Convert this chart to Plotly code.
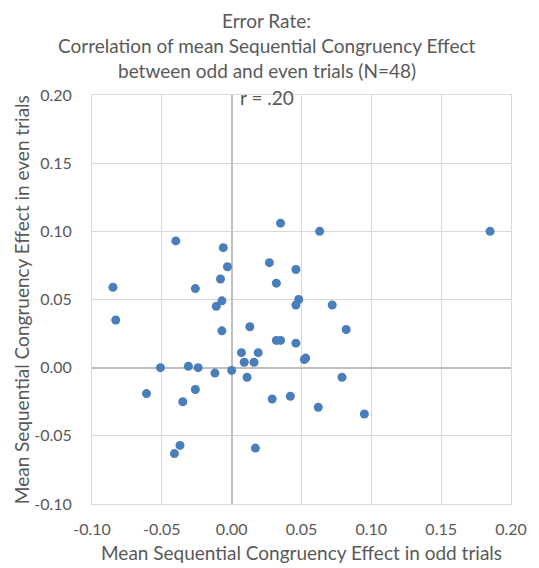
import plotly.graph_objects as go

# Mean Sequential Congruency Effect (error rate), odd vs even trials
odd_trials = [
    -0.040, -0.006, -0.003, -0.008, -0.085, -0.026, -0.007, -0.011, -0.083, 0.013,
    -0.007, 0.007, 0.019, 0.009, 0.016, -0.051, -0.031, -0.024, -0.012, 0.000,
    0.011, -0.026, 0.035, 0.063, 0.027, 0.046, 0.032, 0.048, 0.046, 0.072,
    0.082, 0.032, 0.035, 0.046, 0.052, 0.053, 0.079, -0.061, -0.035, 0.029,
    0.042, 0.062, 0.095, -0.037, -0.041, 0.017, 0.185,
]
even_trials = [
    0.093, 0.088, 0.074, 0.065, 0.059, 0.058, 0.049, 0.045, 0.035, 0.030,
    0.027, 0.011, 0.011, 0.004, 0.004, 0.000, 0.001, 0.000, -0.004, -0.002,
    -0.007, -0.016, 0.106, 0.100, 0.077, 0.072, 0.062, 0.050, 0.046, 0.046,
    0.028, 0.020, 0.020, 0.018, 0.006, 0.007, -0.007, -0.019, -0.025, -0.023,
    -0.021, -0.029, -0.034, -0.057, -0.063, -0.059, 0.100,
]

x_ticks = [-0.10, -0.05, 0.00, 0.05, 0.10, 0.15, 0.20]
y_ticks = [-0.10, -0.05, 0.00, 0.05, 0.10, 0.15, 0.20]
x_tick_labels = ["-0.10", "-0.05", "0.00", "0.05", "0.10", "0.15", "0.20"]
y_tick_labels = ["-0.10", "-0.05", "0.00", "0.05", "0.10", "0.15", "0.20"]

title_lines = [
    "Error Rate:",
    "Correlation of mean Sequential Congruency Effect",
    "between odd and even trials (N=48)",
    "r = .20",
]
x_title = "Mean Sequential Congruency Effect in odd trials"
y_title = "Mean Sequential Congruency Effect in even trials"

TEXT = "#595959"
GRID = "#d9d9d9"
ZERO = "#bfbfbf"
FONT = "Lato, 'Open Sans', sans-serif"

fig = go.Figure()
fig.add_trace(go.Scatter(
    x=odd_trials, y=even_trials, mode="markers",
    marker=dict(size=9, color="#4a7ebb", line=dict(width=0)),
    showlegend=False, hoverinfo="x+y",
))

axis_common = dict(
    showgrid=True, gridcolor=GRID, gridwidth=1,
    zeroline=True, zerolinecolor=ZERO, zerolinewidth=2,
    showline=True, linecolor=GRID, linewidth=1, mirror=True,
    ticks="", tickfont=dict(family=FONT, size=16, color=TEXT),
)

fig.update_layout(
    width=539, height=568,
    margin=dict(l=92, r=18, t=95, b=64),
    paper_bgcolor="white", plot_bgcolor="white",
    font=dict(family=FONT, color=TEXT),
    xaxis=dict(range=[-0.10, 0.20], tickvals=x_ticks, ticktext=x_tick_labels,
               ticklabelstandoff=11, **axis_common),
    yaxis=dict(range=[-0.10, 0.20], tickvals=y_ticks, ticktext=y_tick_labels,
               ticklabelstandoff=16, **axis_common),
)

# title lines (centered around x ~ 271 px)
title_y = [21, 45, 71, 97]
for line, ypx in zip(title_lines, title_y):
    fig.add_annotation(
        text=line, xref="paper", yref="paper",
        x=(271 - 92) / 429, y=1 + (95 - ypx) / 409,
        xanchor="center", yanchor="middle", showarrow=False,
        font=dict(family=FONT, size=19, color=TEXT),
    )

fig.add_annotation(
    text=x_title, xref="paper", yref="paper",
    x=0.5, y=-(552 - 504) / 409, xanchor="center", yanchor="middle",
    showarrow=False, font=dict(family=FONT, size=19, color=TEXT),
)
fig.add_annotation(
    text=y_title, xref="paper", yref="paper",
    x=-(92 - 20) / 429, y=0.5, xanchor="center", yanchor="middle",
    textangle=-90, showarrow=False, font=dict(family=FONT, size=19, color=TEXT),
)

fig.write_html("out.html")
